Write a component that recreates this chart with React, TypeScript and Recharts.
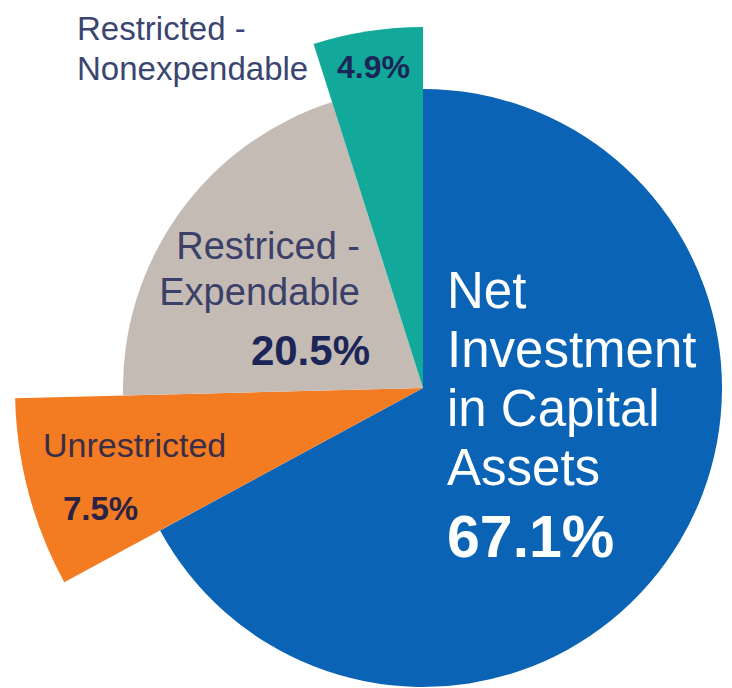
import { PieChart, Pie, Cell } from 'recharts';

const categories = [
  'Net Investment in Capital Assets',
  'Unrestricted',
  'Restriced - Expendable',
  'Restricted - Nonexpendable',
];
const shares = [67.1, 7.5, 20.5, 4.9];
const labelLines = [
  ['Net', 'Investment', 'in Capital', 'Assets'],
  ['Unrestricted'],
  ['Restriced -', 'Expendable'],
  ['Restricted -', 'Nonexpendable'],
];

const COLORS = ['#0a63b4', '#f37b21', '#c5bbb5', '#13a99a'];
// each slice is pulled out to its own radius
const RADII = [299, 408, 300, 361];

const FONT = '"Liberation Sans", Arial, Helvetica, sans-serif';

// label layout per slice, offsets relative to the pie centre
const LABEL_STYLE = [
  { x: 24, y: -80, step: 59, size: 51, color: '#ffffff', anchor: 'start', px: 24, py: 169, psize: 59, pcolor: '#ffffff' },
  { x: -380, y: 69, step: 0, size: 34, color: '#3a2d48', anchor: 'start', px: -360, py: 132, psize: 33, pcolor: '#2a2344' },
  { x: -63, y: -129, step: 46, size: 38, color: '#3b4068', anchor: 'end', px: -53, py: -23, psize: 42, pcolor: '#1c2558' },
  { x: -346, y: -348, step: 40, size: 33, color: '#3b4670', anchor: 'start', px: -86, py: -310, psize: 32, pcolor: '#1c2558' },
];

const data = categories.map((name, i) => ({ name, value: shares[i] }));

const renderLabel = (props: any) => {
  const { cx, cy, index } = props;
  const s = LABEL_STYLE[index];
  const lines = labelLines[index];
  return (
    <g key={`lbl-${index}`} style={{ fontFamily: FONT }}>
      <text x={cx + s.x} y={cy + s.y} fill={s.color} fontSize={s.size} textAnchor={s.anchor}>
        {lines.map((ln, j) => (
          <tspan key={j} x={cx + s.x} y={cy + s.y + j * s.step}>{ln}</tspan>
        ))}
      </text>
      <text x={cx + s.px} y={cy + s.py} fill={s.pcolor} fontSize={s.psize} fontWeight="bold" textAnchor={s.anchor}>
        {`${shares[index].toFixed(1)}%`}
      </text>
    </g>
  );
};

export default function App() {
  return (
    <div style={{ width: 724, height: 680, background: '#ffffff' }}>
      <PieChart width={724} height={680} margin={{ top: 0, right: 0, bottom: 0, left: 0 }}>
        {RADII.map((r, k) => (
          <Pie
            key={k}
            data={data}
            dataKey="value"
            nameKey="name"
            cx={415}
            cy={380}
            innerRadius={0}
            outerRadius={r}
            startAngle={90}
            endAngle={-270}
            stroke="none"
            isAnimationActive={false}
            label={k === RADII.length - 1 ? renderLabel : false}
            labelLine={false}
          >
            {data.map((_, i) => (
              <Cell key={i} fill={i === k ? COLORS[i] : 'transparent'} stroke="none" />
            ))}
          </Pie>
        ))}
      </PieChart>
    </div>
  );
}
